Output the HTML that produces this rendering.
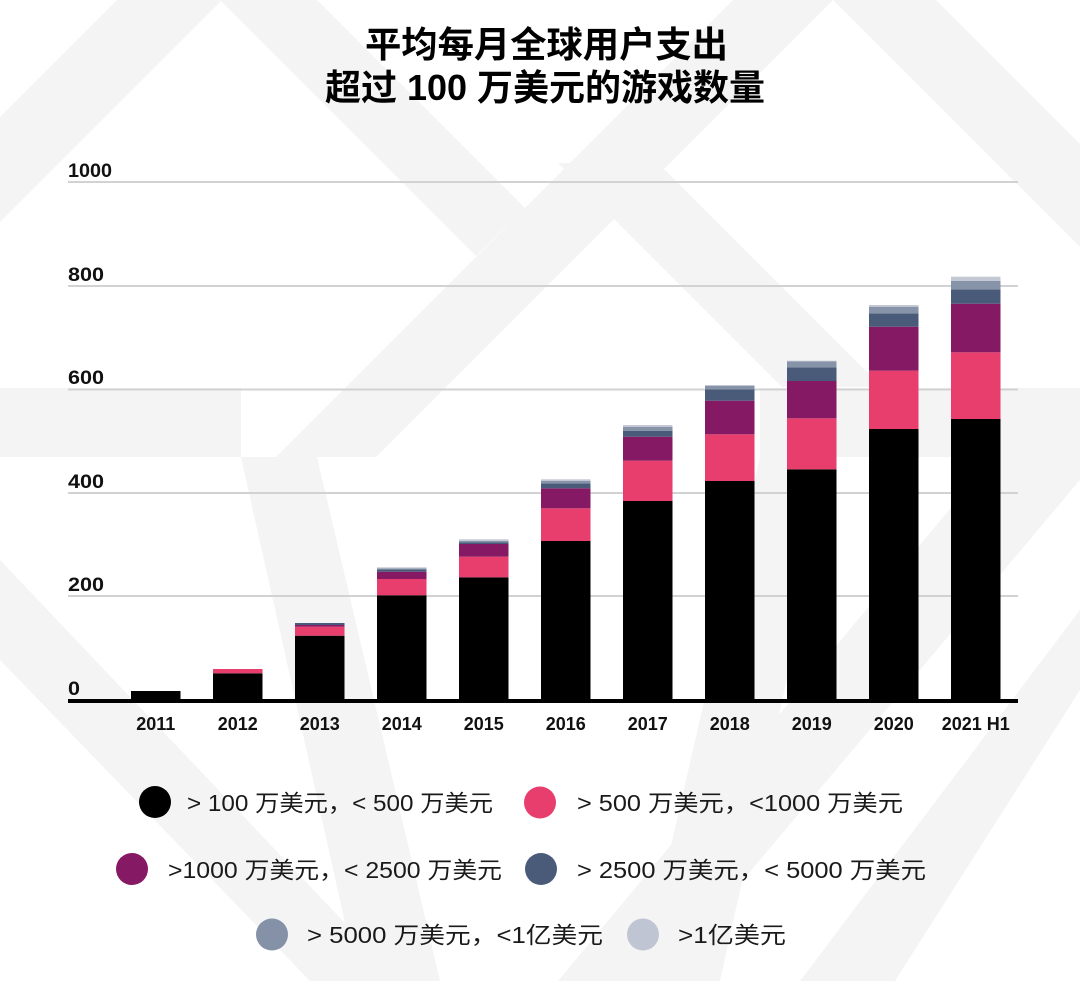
<!DOCTYPE html>
<html>
<head>
<meta charset="utf-8">
<style>
  html,body{margin:0;padding:0;background:#fff;}
  svg{display:block;}
  .t{font-family:"Liberation Sans","Noto Sans CJK SC",sans-serif;}
</style>
</head>
<body>
<svg width="1080" height="981" viewBox="0 0 1080 981" xmlns="http://www.w3.org/2000/svg">
  <rect width="1080" height="981" fill="#ffffff"/>
  <!-- background watermark bands -->
  <g fill="#f4f4f4">
    <polygon points="117,0 222,0 0,222 0,117"/>
    <polygon points="220,0 317,0 525,208 476,256"/>
    <polygon points="733,0 833,0 376,457 276,457"/>
    <polygon points="558,163 658,163 882,387 782,387"/>
    <polygon points="833,0 936,0 1080,144 1080,247"/>
    <rect x="0" y="388" width="241" height="69"/>
    <rect x="760" y="388" width="320" height="69"/>
    <polygon points="241,457 317,457 440,981 358,981"/>
    <polygon points="0,560 0,660 310,981 400,981"/>
    <polygon points="993,457 1080,457 1080,480 658,981 558,981"/>
    <polygon points="760,457 836,457 720,981 640,981"/>
    <polygon points="1080,610 1080,690 895,981 800,981"/>
  </g>

  <!-- title -->
  <text class="t" x="365" y="57" font-size="36" font-weight="700" fill="#000" textLength="363" lengthAdjust="spacingAndGlyphs">平均每月全球用户支出</text>
  <text class="t" x="325" y="100" font-size="36" font-weight="700" fill="#000" textLength="440" lengthAdjust="spacingAndGlyphs">超过 100 万美元的游戏数量</text>

  <!-- gridlines -->
  <g stroke="#d2d2d2" stroke-width="2">
    <line x1="68" y1="182" x2="1018" y2="182"/>
    <line x1="68" y1="286" x2="1018" y2="286"/>
    <line x1="68" y1="389.5" x2="1018" y2="389.5"/>
    <line x1="68" y1="493" x2="1018" y2="493"/>
    <line x1="68" y1="596" x2="1018" y2="596"/>
  </g>

  <!-- y labels -->
  <g class="t" font-size="19" font-weight="700" fill="#111">
    <text x="68" y="177" textLength="44" lengthAdjust="spacingAndGlyphs">1000</text>
    <text x="68" y="281" textLength="36" lengthAdjust="spacingAndGlyphs">800</text>
    <text x="68" y="384" textLength="36" lengthAdjust="spacingAndGlyphs">600</text>
    <text x="68" y="488" textLength="36" lengthAdjust="spacingAndGlyphs">400</text>
    <text x="68" y="591" textLength="36" lengthAdjust="spacingAndGlyphs">200</text>
    <text x="68" y="695" textLength="12" lengthAdjust="spacingAndGlyphs">0</text>
  </g>

  <!-- bars -->
  <g>
    <!-- 2011 -->
    <rect x="131" y="691" width="49.5" height="8" fill="#000"/>
    <!-- 2012 -->
    <rect x="213" y="673.3" width="49.5" height="25.7" fill="#000"/>
    <rect x="213" y="669" width="49.5" height="4.3" fill="#e83e6d"/>
    <!-- 2013 -->
    <rect x="295" y="635.7" width="49.5" height="63.3" fill="#000"/>
    <rect x="295" y="626.7" width="49.5" height="9" fill="#e83e6d"/>
    <rect x="295" y="625" width="49.5" height="1.7" fill="#861963"/>
    <rect x="295" y="623" width="49.5" height="2" fill="#4a5b7a"/>
    <!-- 2014 -->
    <rect x="377" y="595.3" width="49.5" height="103.7" fill="#000"/>
    <rect x="377" y="579" width="49.5" height="16.3" fill="#e83e6d"/>
    <rect x="377" y="571.7" width="49.5" height="7.3" fill="#861963"/>
    <rect x="377" y="569.3" width="49.5" height="2.4" fill="#4a5b7a"/>
    <rect x="377" y="568.3" width="49.5" height="1" fill="#8793a8"/>
    <rect x="377" y="567.3" width="49.5" height="1" fill="#c3c8d4"/>
    <!-- 2015 -->
    <rect x="459" y="577.3" width="49.5" height="121.7" fill="#000"/>
    <rect x="459" y="556.7" width="49.5" height="20.6" fill="#e83e6d"/>
    <rect x="459" y="544" width="49.5" height="12.7" fill="#861963"/>
    <rect x="459" y="542.5" width="49.5" height="1.5" fill="#4a5b7a"/>
    <rect x="459" y="541" width="49.5" height="1.5" fill="#8793a8"/>
    <rect x="459" y="539.3" width="49.5" height="1.7" fill="#c3c8d4"/>
    <!-- 2016 -->
    <rect x="541" y="541" width="49.5" height="158" fill="#000"/>
    <rect x="541" y="508.3" width="49.5" height="32.7" fill="#e83e6d"/>
    <rect x="541" y="488.3" width="49.5" height="20" fill="#861963"/>
    <rect x="541" y="483.3" width="49.5" height="5" fill="#4a5b7a"/>
    <rect x="541" y="481" width="49.5" height="2.3" fill="#8793a8"/>
    <rect x="541" y="479.3" width="49.5" height="1.7" fill="#c3c8d4"/>
    <!-- 2017 -->
    <rect x="623" y="501" width="49.5" height="198" fill="#000"/>
    <rect x="623" y="460.7" width="49.5" height="40.3" fill="#e83e6d"/>
    <rect x="623" y="436.7" width="49.5" height="24" fill="#861963"/>
    <rect x="623" y="430.7" width="49.5" height="6" fill="#4a5b7a"/>
    <rect x="623" y="427" width="49.5" height="3.7" fill="#8793a8"/>
    <rect x="623" y="425" width="49.5" height="2" fill="#c3c8d4"/>
    <!-- 2018 -->
    <rect x="705" y="481" width="49.5" height="218" fill="#000"/>
    <rect x="705" y="434.3" width="49.5" height="46.7" fill="#e83e6d"/>
    <rect x="705" y="400.7" width="49.5" height="33.6" fill="#861963"/>
    <rect x="705" y="389.3" width="49.5" height="11.4" fill="#4a5b7a"/>
    <rect x="705" y="386" width="49.5" height="3.3" fill="#8793a8"/>
    <rect x="705" y="385" width="49.5" height="1" fill="#c3c8d4"/>
    <!-- 2019 -->
    <rect x="787" y="469.3" width="49.5" height="229.7" fill="#000"/>
    <rect x="787" y="418.3" width="49.5" height="51" fill="#e83e6d"/>
    <rect x="787" y="381" width="49.5" height="37.3" fill="#861963"/>
    <rect x="787" y="367.3" width="49.5" height="13.7" fill="#4a5b7a"/>
    <rect x="787" y="361.5" width="49.5" height="5.8" fill="#8793a8"/>
    <rect x="787" y="360.7" width="49.5" height="0.8" fill="#c3c8d4"/>
    <!-- 2020 -->
    <rect x="869" y="429" width="49.5" height="270" fill="#000"/>
    <rect x="869" y="370.7" width="49.5" height="58.3" fill="#e83e6d"/>
    <rect x="869" y="326.7" width="49.5" height="44" fill="#861963"/>
    <rect x="869" y="313.3" width="49.5" height="13.4" fill="#4a5b7a"/>
    <rect x="869" y="306.7" width="49.5" height="6.6" fill="#8793a8"/>
    <rect x="869" y="305" width="49.5" height="1.7" fill="#c3c8d4"/>
    <!-- 2021 H1 -->
    <rect x="951" y="419" width="49.5" height="280" fill="#000"/>
    <rect x="951" y="352.3" width="49.5" height="66.7" fill="#e83e6d"/>
    <rect x="951" y="303.7" width="49.5" height="48.6" fill="#861963"/>
    <rect x="951" y="289.3" width="49.5" height="14.4" fill="#4a5b7a"/>
    <rect x="951" y="281" width="49.5" height="8.3" fill="#8793a8"/>
    <rect x="951" y="276.7" width="49.5" height="4.3" fill="#c3c8d4"/>
  </g>

  <!-- axis -->
  <rect x="68" y="699" width="950" height="4" fill="#000"/>

  <!-- x labels -->
  <g class="t" font-size="18" font-weight="700" fill="#111" text-anchor="middle">
    <text x="155.75" y="730">2011</text>
    <text x="237.75" y="730">2012</text>
    <text x="319.75" y="730">2013</text>
    <text x="401.75" y="730">2014</text>
    <text x="483.75" y="730">2015</text>
    <text x="565.75" y="730">2016</text>
    <text x="647.75" y="730">2017</text>
    <text x="729.75" y="730">2018</text>
    <text x="811.75" y="730">2019</text>
    <text x="893.75" y="730">2020</text>
    <text x="975.75" y="730">2021 H1</text>
  </g>

  <!-- legend -->
  <circle cx="155" cy="802" r="16" fill="#000"/>
  <circle cx="540" cy="802.5" r="16" fill="#e83e6d"/>
  <circle cx="132" cy="869" r="16" fill="#861963"/>
  <circle cx="541" cy="869" r="16" fill="#4a5b7a"/>
  <circle cx="272" cy="934.5" r="16" fill="#8591a7"/>
  <circle cx="643" cy="934.5" r="16" fill="#c0c5d3"/>
  <g class="t" font-size="23" fill="#1a1a1a">
    <text x="187" y="811" textLength="306" lengthAdjust="spacingAndGlyphs">&gt; 100 万美元，&lt; 500 万美元</text>
    <text x="577" y="811" textLength="326" lengthAdjust="spacingAndGlyphs">&gt; 500 万美元，&lt;1000 万美元</text>
    <text x="168" y="878" textLength="334" lengthAdjust="spacingAndGlyphs">&gt;1000 万美元，&lt; 2500 万美元</text>
    <text x="577" y="878" textLength="349" lengthAdjust="spacingAndGlyphs">&gt; 2500 万美元，&lt; 5000 万美元</text>
    <text x="307" y="943" textLength="296" lengthAdjust="spacingAndGlyphs">&gt; 5000 万美元，&lt;1亿美元</text>
    <text x="678" y="943" textLength="108" lengthAdjust="spacingAndGlyphs">&gt;1亿美元</text>
  </g>
</svg>
</body>
</html>
